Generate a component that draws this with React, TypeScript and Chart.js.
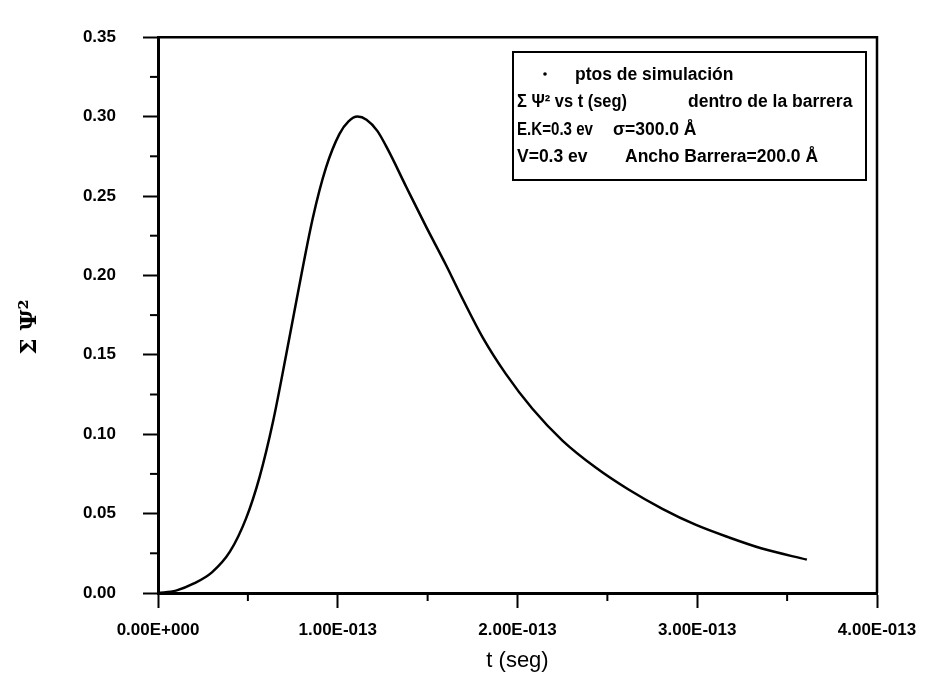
import React, { useEffect, useRef } from "react";
import { Chart, registerables } from "chart.js";

Chart.register(...registerables);

// time in units of 1e-13 s
const tValues = [0, 0.1, 0.2, 0.3, 0.4, 0.49, 0.565, 0.64, 0.713, 0.77, 0.861, 0.935, 1.009, 1.06, 1.11, 1.16, 1.22, 1.28, 1.38, 1.49, 1.6, 1.7, 1.806, 1.935, 2.083, 2.25, 2.435, 2.62, 2.806, 2.99, 3.176, 3.36, 3.61];
const psiValues = [0, 0.0015, 0.006, 0.013, 0.026, 0.047, 0.073, 0.108, 0.15, 0.184, 0.236, 0.268, 0.289, 0.297, 0.3, 0.298, 0.291, 0.279, 0.256, 0.231, 0.207, 0.184, 0.161, 0.138, 0.116, 0.096, 0.079, 0.065, 0.053, 0.043, 0.035, 0.028, 0.021];

const xMin = 0;
const xMax = 4e-13;
const xStep = 1e-13;
const yMin = 0;
const yMax = 0.35;
const yStep = 0.05;

const xTitle = "t (seg)";
const yTitle = "Σ Ψ²";
const legendLines = [
  ["ptos de simulación"],
  ["Σ Ψ² vs t (seg)", "dentro de la barrera"],
  ["E.K=0.3 ev", "σ=300.0 Å"],
  ["V=0.3 ev", "Ancho Barrera=200.0 Å"],
];

function fmtSci(v: number): string {
  if (Math.abs(v) < 1e-30) return "0.00E+000";
  const e = Math.floor(Math.log10(Math.abs(v)) + 1e-9);
  const m = v / Math.pow(10, e);
  const sign = e < 0 ? "-" : "+";
  return m.toFixed(2) + "E" + sign + String(Math.abs(e)).padStart(3, "0");
}

const FONT = "'Liberation Sans', Arial, sans-serif";

const framePlugin = {
  id: "frameAndMinor",
  afterDraw(chart: any) {
    const { ctx, chartArea, scales } = chart;
    ctx.save();
    ctx.strokeStyle = "#000";
    // top and right frame
    ctx.lineWidth = 2.5;
    ctx.beginPath();
    ctx.moveTo(chartArea.left, chartArea.top);
    ctx.lineTo(chartArea.right, chartArea.top);
    ctx.lineTo(chartArea.right, chartArea.bottom);
    ctx.stroke();
    // minor ticks
    ctx.lineWidth = 2;
    const xs = scales.x;
    for (let v = xMin + xStep / 2; v < xMax; v += xStep) {
      const px = xs.getPixelForValue(v);
      ctx.beginPath();
      ctx.moveTo(px, chartArea.bottom);
      ctx.lineTo(px, chartArea.bottom + 8);
      ctx.stroke();
    }
    const ys = scales.y;
    for (let v = yMin + yStep / 2; v < yMax; v += yStep) {
      const py = ys.getPixelForValue(v);
      ctx.beginPath();
      ctx.moveTo(chartArea.left, py);
      ctx.lineTo(chartArea.left - 8, py);
      ctx.stroke();
    }
    // legend box
    const bx = 513, by = 52, bw = 353, bh = 128;
    ctx.lineWidth = 2;
    ctx.strokeRect(bx, by, bw, bh);
    ctx.fillStyle = "#000";
    ctx.font = "bold 17.5px " + FONT;
    ctx.textBaseline = "middle";
    ctx.textAlign = "left";
    ctx.beginPath();
    ctx.arc(545, 74, 1.8, 0, Math.PI * 2);
    ctx.fill();
    ctx.fillText(legendLines[0][0], 575, 75, 162);
    ctx.fillText(legendLines[1][0], 517, 102, 110);
    ctx.fillText(legendLines[1][1], 688, 102, 165);
    ctx.fillText(legendLines[2][0], 517, 130, 76);
    ctx.fillText(legendLines[2][1], 613, 130, 92);
    ctx.fillText(legendLines[3][0], 517, 157, 72);
    ctx.fillText(legendLines[3][1], 625, 157, 210);
    ctx.restore();
  },
};

export default function App() {
  const ref = useRef<HTMLCanvasElement | null>(null);
  useEffect(() => {
    if (!ref.current) return;
    const data = tValues.map((t, i) => ({ x: t * 1e-13, y: psiValues[i] }));
    const chart = new Chart(ref.current, {
      type: "line",
      data: {
        datasets: [
          {
            label: "Σ Ψ² vs t (seg) dentro de la barrera",
            data,
            borderColor: "#000",
            borderWidth: 2.5,
            pointRadius: 0,
            fill: false,
            cubicInterpolationMode: "monotone",
          },
        ],
      },
      options: {
        animation: false,
        responsive: false,
        layout: { padding: { left: 0, top: 20, right: 48, bottom: 0 } },
        plugins: { legend: { display: false }, tooltip: { enabled: false } },
        scales: {
          x: {
            type: "linear",
            min: xMin,
            max: xMax,
            afterFit: (s: any) => { s.height = 98; s.paddingRight = 0; s.paddingLeft = 0; },
            ticks: {
              stepSize: xStep,
              color: "#000",
              font: { family: FONT, size: 17, weight: "bold" },
              padding: 12,
              maxRotation: 0,
              callback: (v: any) => fmtSci(Number(v)),
            },
            grid: { drawOnChartArea: false, tickLength: 15, tickWidth: 2, tickColor: "#000" },
            border: { display: true, color: "#000", width: 3 },
            title: {
              display: true,
              text: xTitle,
              color: "#000",
              font: { family: FONT, size: 22, lineHeight: 1.2 },
              padding: { top: 0, bottom: 17 },
            },
          },
          y: {
            type: "linear",
            min: yMin,
            max: yMax,
            afterFit: (s: any) => { s.width = 158; },
            ticks: {
              stepSize: yStep,
              color: "#000",
              font: { family: FONT, size: 17, weight: "bold" },
              padding: 27,
              callback: (v: any) => Number(v).toFixed(2),
            },
            grid: { drawOnChartArea: false, tickLength: 15, tickWidth: 2, tickColor: "#000" },
            border: { display: true, color: "#000", width: 3 },
            title: {
              display: true,
              text: yTitle + "   ",
              color: "#000",
              font: { family: "'DejaVu Serif', serif", size: 23, weight: "bold", lineHeight: 1.2 },
              padding: { top: 16, bottom: 0 },
            },
          },
        },
      },
      plugins: [framePlugin],
    });
    return () => chart.destroy();
  }, []);
  return (
    <div style={{ position: "absolute", left: 0, top: 0, width: 925, height: 691, background: "#fff" }}>
      <canvas ref={ref} width={925} height={691} style={{ display: "block" }} />
    </div>
  );
}
